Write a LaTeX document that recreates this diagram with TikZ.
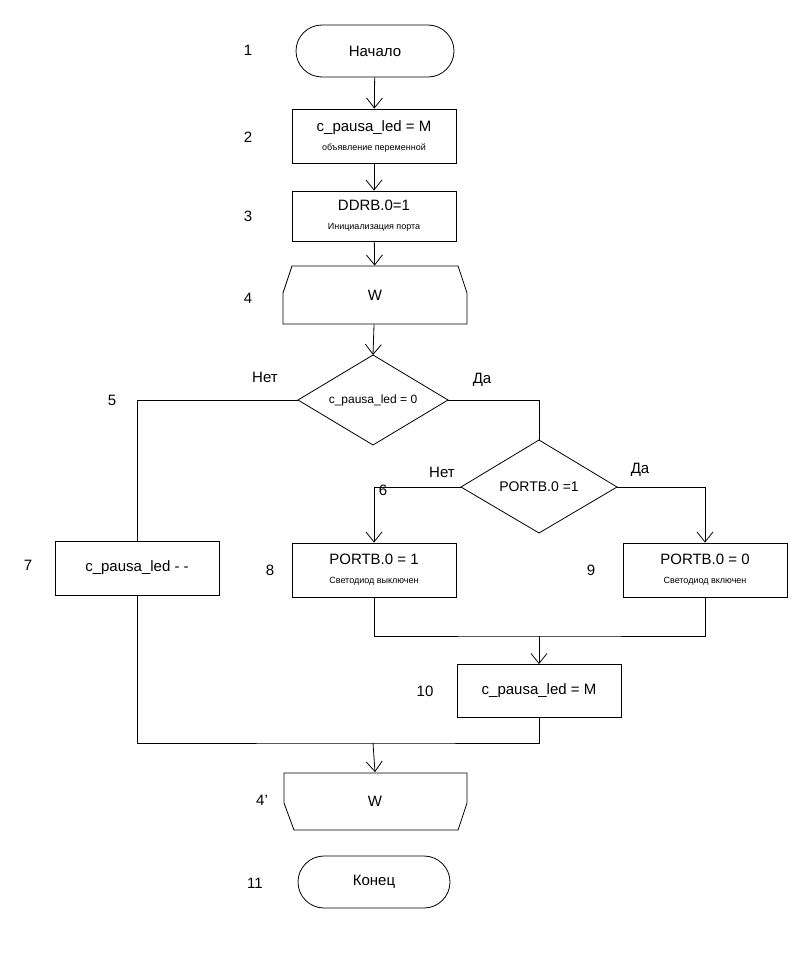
\documentclass[tikz,border=0pt]{standalone}
\usepackage{fontspec}
\setmainfont{Liberation Sans}
\usetikzlibrary{arrows.meta}
\begin{document}
\begin{tikzpicture}[x=1pt,y=-1pt,line width=0.8pt,
  every node/.style={font=\fontsize{15}{17}\selectfont, inner sep=0pt},
  box/.style={draw,minimum width=164pt,minimum height=54pt,align=center},
  term/.style={draw,rounded corners=26pt,minimum height=52pt,align=center},
  lbl/.style={font=\fontsize{15}{17}\selectfont},
  sm/.style={font=\fontsize{9}{11}\selectfont},
  dia/.style={draw,diamond,aspect=1.67},
  arr/.style={-{Straight Barb[length=10pt,width=16pt,line width=0.8pt]}}]
\useasboundingbox (0,0) rectangle (807,958);
\node[term,minimum width=158pt] (s) at (375,51) {Начало};
\node[lbl] at (248,50) {1};
\node[box] (b2) at (374,136) {c\_pausa\_led = M\\[2pt]{\fontsize{9}{11}\selectfont объявление переменной}};
\node[lbl] at (248,137) {2};
\node[box,minimum height=50pt] (b3) at (374,216) {DDRB.0=1\\[2pt]{\fontsize{9}{11}\selectfont Инициализация порта}};
\node[lbl] at (248,216) {3};
% loop start
\node[minimum width=184pt,minimum height=58pt] (w1) at (375,295) {W};
\draw (292,266)--(458,266)--(467,293)--(467,324)--(283,324)--(283,293)--cycle;
\node[lbl] at (248,298) {4};
% diamond 1
\coordinate (d1) at (373,400);
\draw (373,355)--(448,400)--(373,445)--(298,400)--cycle;
\node[font=\fontsize{12}{14}\selectfont] at (373,400) {c\_pausa\_led = 0};
\coordinate (d1t) at (373,355); \coordinate (d1l) at (298,400); \coordinate (d1r) at (448,400);
\node[lbl] at (265,377) {Нет};
\node[lbl] at (482,380) {Да};
\node[lbl] at (112,400) {5};
% box7
\node[box] (b7) at (137,568) {c\_pausa\_led - -};
\node[lbl] at (28,565) {7};
% diamond 2
\draw (539,440)--(617,487)--(539,533)--(461,487)--cycle;
\node[font=\fontsize{14}{16}\selectfont] at (539,487) {PORTB.0 =1};
\coordinate (d2t) at (539,440); \coordinate (d2l) at (461,487); \coordinate (d2r) at (617,487);
\node[lbl] at (442,472) {Нет};
\node[lbl] at (640,470) {Да};
\node[lbl] at (383,490) {6};
\node[box] (b8) at (374,570) {PORTB.0 = 1\\[2pt]{\fontsize{9}{11}\selectfont Светодиод выключен}};
\node[lbl] at (270,570) {8};
\node[box] (b9) at (705,570) {PORTB.0 = 0\\[2pt]{\fontsize{9}{11}\selectfont Светодиод включен}};
\node[lbl] at (591,570) {9};
\node[box,minimum height=53pt] (b10) at (539,691) {c\_pausa\_led = M};
\node[lbl] at (425,691) {10};
% loop end
\node[minimum width=183pt,minimum height=57pt] (w2) at (375,801) {W};
\draw (284,773)--(467,773)--(467,803)--(458,830)--(294,830)--(284,803)--cycle;
\node[lbl] at (262,800) {4'};
\node[term,minimum width=152pt] (e) at (374,882) {Конец};
\node[lbl] at (255,883) {11};
% connectors
\draw[arr] (s) -- (b2);
\draw[arr] (b2) -- (b3);
\draw[arr] (b3) -- (w1);
\draw[arr] (w1) -- (d1t);
\draw (d1l) -| (b7.north);
\draw (d1r) -| (d2t);
\draw[arr] (d2l) -| (b8.north);
\draw[arr] (d2r) -| (b9.north);
\coordinate (m1) at (539,636);
\draw (b8.south) |- (m1) -| (b9.south);
\draw[arr] (m1) -- (b10.north);
\coordinate (m2) at (373,743);
\draw (b7.south) |- (m2) -| (b10.south);
\draw[arr] (m2) -- (w2.north);
\end{tikzpicture}
\end{document}
